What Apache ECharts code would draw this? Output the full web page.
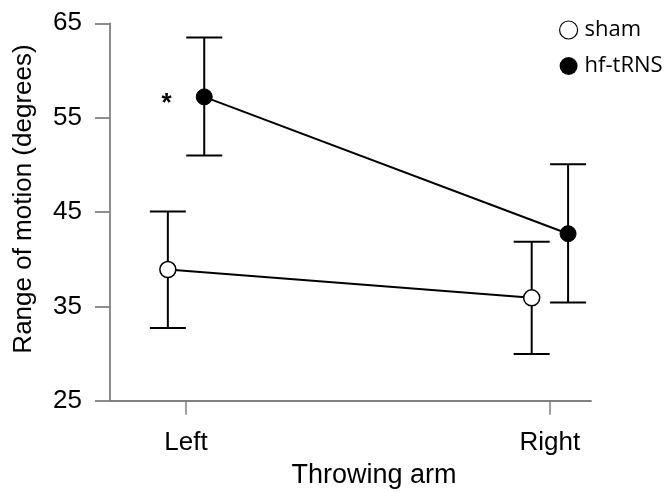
<!DOCTYPE html>
<html>
<head>
<meta charset="utf-8">
<script src="https://cdn.jsdelivr.net/npm/echarts@6/dist/echarts.min.js"></script>
<style>
html,body{margin:0;padding:0;background:#fff;}
#chart{width:666px;height:492px;}
</style>
</head>
<body>
<div id="chart"></div>
<script>
const categories = ['Left', 'Right'];
const seriesNames = ['sham', 'hf-tRNS'];
const shamMean = [38.9, 35.9];
const shamLow = [32.7, 29.95];
const shamHigh = [45.05, 41.85];
const hfMean = [57.2, 42.7];
const hfLow = [51.0, 35.4];
const hfHigh = [63.5, 50.05];
const yTicks = [25, 35, 45, 55, 65];
const significance = ['*', ''];   // hf-tRNS vs sham marker per category

const dodge = 0.05;
const FONT = "'Liberation Sans', Arial, sans-serif";

function pts(means, off) {
  return means.map((m, i) => [i + off, m]);
}
function bars(lows, highs, off) {
  return lows.map((l, i) => [i + off, l, highs[i]]);
}

const chart = echarts.init(document.getElementById('chart'));

function errorRender(params, api) {
  const x = api.value(0);
  const lo = api.coord([x, api.value(1)]);
  const hi = api.coord([x, api.value(2)]);
  const w = 18;
  const st = { stroke: '#000', lineWidth: 2 };
  return {
    type: 'group',
    children: [
      { type: 'line', shape: { x1: lo[0], y1: lo[1], x2: hi[0], y2: hi[1] }, style: st },
      { type: 'line', shape: { x1: lo[0] - w, y1: lo[1], x2: lo[0] + w, y2: lo[1] }, style: st },
      { type: 'line', shape: { x1: hi[0] - w, y1: hi[1], x2: hi[0] + w, y2: hi[1] }, style: st }
    ]
  };
}

const hfData = pts(hfMean, dodge).map((p, i) => {
  if (!significance[i]) return p;
  return {
    value: p,
    label: {
      show: true, formatter: significance[i], position: 'left', distance: 24,
      fontSize: 26, fontWeight: 'bold', color: '#000', fontFamily: FONT, offset: [0, 7]
    }
  };
});

chart.setOption({
  animation: false,
  backgroundColor: '#fff',
  grid: { left: 110, right: 75, top: 23.3, bottom: 91.3, containLabel: false, outerBoundsMode: 'none' },
  legend: {
    orient: 'vertical',
    left: 554, top: 14,
    itemWidth: 18, itemHeight: 18, itemGap: 14,
    selectedMode: false,
    textStyle: { fontFamily: "'Open Sans', sans-serif", fontSize: 22, color: '#000', padding: [0, 0, 0, 2] },
    data: [
      { name: seriesNames[0], icon: 'circle', itemStyle: { color: '#fff', borderColor: '#000', borderWidth: 1.2 } },
      { name: seriesNames[1], icon: 'circle', itemStyle: { color: '#000', borderWidth: 0 } }
    ]
  },
  xAxis: {
    type: 'value',
    min: -0.209, max: 1.113,
    name: 'Throwing arm',
    nameLocation: 'middle',
    nameGap: 61,
    nameTextStyle: { fontFamily: FONT, fontSize: 27, color: '#000', padding: [0, 0, 0, 47] },
    axisLine: { onZero: false, lineStyle: { color: '#808080', width: 1.8 } },
    axisTick: { show: true, length: 14, lineStyle: { color: '#808080', width: 1.5 }, customValues: [0, 1] },
    axisLabel: {
      customValues: [0, 1], margin: 29,
      formatter: v => categories[Math.round(v)] || '',
      fontFamily: FONT, fontSize: 26, color: '#000'
    },
    splitLine: { show: false }
  },
  yAxis: {
    type: 'value',
    min: yTicks[0], max: yTicks[yTicks.length - 1], interval: 10,
    name: 'Range of motion (degrees)',
    nameLocation: 'middle',
    nameGap: 73,
    nameTextStyle: { fontFamily: FONT, fontSize: 26, color: '#000', padding: [0, 0, 0, 26] },
    axisLine: { show: true, onZero: false, lineStyle: { color: '#808080', width: 1.8 } },
    axisTick: { show: true, inside: false, length: 15, lineStyle: { color: '#808080', width: 1.8 } },
    axisLabel: { margin: 28, fontFamily: FONT, fontSize: 26, color: '#000' },
    splitLine: { show: false }
  },
  series: [
    { name: 'sham-err', type: 'custom', renderItem: errorRender, data: bars(shamLow, shamHigh, -dodge), z: 1, encode: { x: 0, y: [1, 2] } },
    { name: 'hf-err', type: 'custom', renderItem: errorRender, data: bars(hfLow, hfHigh, dodge), z: 1, encode: { x: 0, y: [1, 2] } },
    {
      name: seriesNames[0], type: 'line', data: pts(shamMean, -dodge), z: 3,
      symbol: 'circle', symbolSize: 16,
      lineStyle: { color: '#000', width: 2 },
      itemStyle: { color: '#fff', borderColor: '#000', borderWidth: 1.5 }
    },
    {
      name: seriesNames[1], type: 'line', data: hfData, z: 3,
      symbol: 'circle', symbolSize: 16,
      lineStyle: { color: '#000', width: 2 },
      itemStyle: { color: '#000', borderColor: '#000', borderWidth: 1 }
    }
  ]
});
</script>
</body>
</html>
